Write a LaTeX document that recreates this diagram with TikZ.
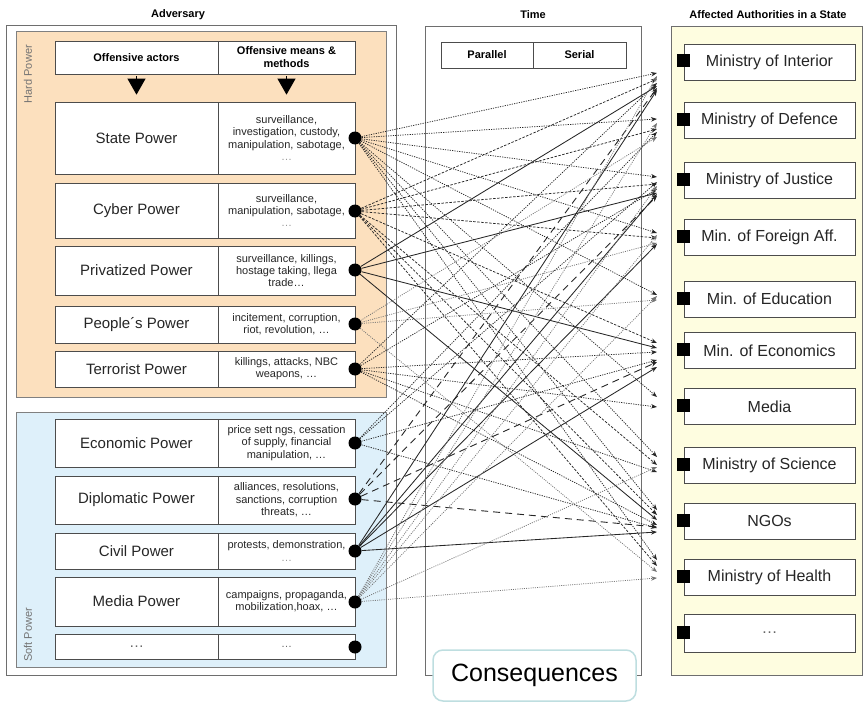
\documentclass[tikz,border=0pt]{standalone}
\usepackage{fontspec}
\setmainfont{Liberation Sans}
\usetikzlibrary{arrows.meta}
\definecolor{hardfill}{RGB}{252,224,190}
\definecolor{softfill}{RGB}{222,240,250}
\definecolor{authfill}{RGB}{254,253,224}
\definecolor{consborder}{RGB}{190,222,224}
\definecolor{frame}{RGB}{110,110,110}

\begin{document}
\begin{tikzpicture}[x=1pt,y=-1pt,
  title/.style={font=\bfseries\fontsize{11}{13}\selectfont},
  panel/.style={draw=frame, line width=0.8pt, inner sep=0pt},
  cell/.style={draw=black!70, fill=white, line width=0.7pt, inner sep=0pt, text=black!85},
  actor/.style={cell, minimum width=163pt, font=\fontsize{15}{18}\selectfont},
  means/.style={cell, minimum width=137pt, align=center, font=\fontsize{11}{12.3}\selectfont},
  hdr/.style={cell, text=black, align=center, minimum height=33pt, font=\bfseries\fontsize{11}{13}\selectfont},
  srcdot/.style={circle, fill=black, inner sep=0pt, minimum size=13pt},
  auth/.style={cell, minimum width=171pt, minimum height=36pt, font=\fontsize{16}{19}\selectfont},
  authsq/.style={fill=black, inner sep=0pt, minimum size=13pt},
  sidelabel/.style={rotate=90, inner sep=0pt, text=black!55, font=\fontsize{11}{13}\selectfont},
  downarrow/.style={-{Triangle[length=16pt,width=18pt]}, line width=1pt, shorten >=7pt, shorten <=2pt},
  conn/.style={-{Stealth[length=6pt,width=4.5pt]}, line width=0.75pt},
  dotdark/.style={conn, black!85, dash pattern=on 1.2pt off 1.2pt},
  dashdark/.style={conn, black!85, dash pattern=on 2.5pt off 1.5pt},
  solidline/.style={conn, black!85, line width=0.85pt},
  dotlight/.style={conn, black!55, dash pattern=on 1pt off 1.2pt},
  longdash/.style={conn, black!85, line width=0.9pt, dash pattern=on 7pt off 5pt}
]
\useasboundingbox (0,0) rectangle (868,709);

% ---------------- column titles
\node[title] (t-adv)  at (178,15) {Adversary};
\node[title] (t-time) at (533,15) {Time};
\node[title] (t-auth) at (768,15) {Affected Authorities in a State};

% ---------------- adversary panel
\node[panel, minimum width=390pt, minimum height=650pt] (adv) at (201,350) {};
\node[panel, draw=black!50, fill=hardfill, minimum width=370pt, minimum height=366pt] (hard) at (201,214) {};
\node[panel, draw=black!50, fill=softfill, minimum width=370pt, minimum height=255pt] (soft) at (201,539.5) {};
\node[sidelabel, anchor=east] (l-hard) at (28,45) {Hard Power};
\node[sidelabel, anchor=west] (l-soft) at (28,662) {Soft Power};

\node[hdr, minimum width=163pt] (h-act)   at (136.5,57.5) {Offensive actors};
\node[hdr, minimum width=137pt] (h-means) at (286.5,57.5) {Offensive means \&\\methods};

% actors and their means
\node[actor, minimum height=72pt] (a-state) at (136.5,138)   {State Power};
\node[means, minimum height=72pt] (m-state) at (286.5,138)   {surveillance,\\investigation, custody,\\manipulation, sabotage,\\\textcolor{black!40}{…}};
\node[actor, minimum height=55pt] (a-cyber) at (136.5,210.5) {Cyber Power};
\node[means, minimum height=55pt] (m-cyber) at (286.5,210.5) {surveillance,\\manipulation, sabotage,\\\textcolor{black!40}{…}};
\node[actor, minimum height=49pt] (a-priv)  at (136.5,270.5) {Privatized Power};
\node[means, minimum height=49pt] (m-priv)  at (286.5,270.5) {surveillance, killings,\\hostage taking,  llega\\trade…};
\node[actor, minimum height=37pt] (a-peop)  at (136.5,324.5) {People´s Power};
\node[means, minimum height=37pt] (m-peop)  at (286.5,324.5) {incitement, corruption,\\riot, revolution, …};
\node[actor, minimum height=36pt] (a-terr)  at (136.5,369)   {Terrorist Power};
\node[means, minimum height=36pt] (m-terr)  at (286.5,369)   {killings, attacks, NBC\\weapons, …};

\node[actor, minimum height=48pt] (a-econ)  at (136.5,443)   {Economic Power};
\node[means, minimum height=48pt] (m-econ)  at (286.5,443)   {price sett ngs, cessation\\of supply, financial\\manipulation, …};
\node[actor, minimum height=48pt] (a-dipl)  at (136.5,500)   {Diplomatic Power};
\node[means, minimum height=48pt] (m-dipl)  at (286.5,500)   {alliances, resolutions,\\sanctions, corruption\\threats, …};
\node[actor, minimum height=36pt] (a-civil) at (136.5,551)   {Civil Power};
\node[means, minimum height=36pt] (m-civil) at (286.5,551)   {protests, demonstration,\\\textcolor{black!40}{…}};
\node[actor, minimum height=49pt] (a-media) at (136.5,601.5) {Media Power};
\node[means, minimum height=49pt] (m-media) at (286.5,601.5) {campaigns, propaganda,\\mobilization,hoax, …};
\node[actor, minimum height=25pt] (a-more)  at (136.5,646.5) {\textcolor{black!60}{…}};
\node[means, minimum height=25pt] (m-more)  at (286.5,646.5) {\textcolor{black!60}{…}};

\draw[downarrow] (h-act.south)   -- (a-state.north);
\draw[downarrow] (h-means.south) -- (m-state.north);

% ---------------- time panel
\node[panel, minimum width=216pt, minimum height=649pt] (time) at (533,350.5) {};
\node[hdr, minimum width=92pt, minimum height=26pt] (par) at (487,55)   {Parallel};
\node[hdr, minimum width=93pt, minimum height=26pt] (ser) at (579.5,55) {Serial};

% ---------------- authorities panel
\node[panel, fill=authfill, minimum width=191pt, minimum height=649pt] (auth) at (766.5,350.5) {};
\node[auth] (int) at (769.5,62)    {Ministry of Interior};
\node[auth] (def) at (769.5,120.5) {Ministry of Defence};
\node[auth] (jus) at (769.5,180.5) {Ministry of Justice};
\node[auth] (for) at (769.5,237.5) {Min. of Foreign Aff.};
\node[auth] (edu) at (769.5,299)   {Min. of Education};
\node[auth] (eco) at (769.5,350.5) {Min. of Economics};
\node[auth] (med) at (769.5,406.5) {Media};
\node[auth] (sci) at (769.5,465.5) {Ministry of Science};
\node[auth] (ngo) at (769.5,521)   {NGOs};
\node[auth] (hea) at (769.5,577.5) {Ministry of Health};
\node[auth, minimum height=38pt] (etc) at (769.5,633) {\textcolor{black!60}{…}};
\foreach \a in {int,def,jus,for,edu,eco,med,sci,ngo,hea,etc}
  \node[authsq] (\a-sq) at ([yshift=1pt]\a.west) {};

% arrow ends in front of each authority
\coordinate (int-in) at (657,81);
\coordinate (def-in) at (657,128);
\coordinate (jus-in) at (657,185);
\coordinate (for-in) at (657,238);
\coordinate (edu-in) at (657,298);
\coordinate (eco-in) at (657,354);
\coordinate (med-in) at (657,402);
\coordinate (sci-in) at (657,465);
\coordinate (ngo-in) at (657,521);
\coordinate (hea-in) at (657,569);

% ---------------- source dots
\node[srcdot] (d-state) at (355,138) {};
\node[srcdot] (d-cyber) at (355,211) {};
\node[srcdot] (d-priv)  at (355,270) {};
\node[srcdot] (d-peop)  at (355,324) {};
\node[srcdot] (d-terr)  at (355,369) {};
\node[srcdot] (d-econ)  at (355,443) {};
\node[srcdot] (d-dipl)  at (355,499) {};
\node[srcdot] (d-civil) at (355,551) {};
\node[srcdot] (d-media) at (355,602) {};
\node[srcdot] (d-more)  at (355,647) {};

% ---------------- effects (yshift: positive = higher)
\foreach \t/\o in {int/8, def/9, jus/8, for/5, edu/3, med/5, sci/8, ngo/11, hea/9}
  \draw[dotdark] (d-state) -- ([yshift=\o pt]\t-in);
\foreach \t/\o in {int/2, def/-1, jus/1, for/0, eco/11, sci/0, ngo/6, hea/3}
  \draw[dashdark] (d-cyber) -- ([yshift=\o pt]\t-in);
\foreach \t/\o in {int/-5, jus/-8, eco/6, ngo/1}
  \draw[solidline] (d-priv) -- ([yshift=\o pt]\t-in);
\foreach \t/\o in {def/-9, for/-5, edu/-2, hea/-3}
  \draw[dotlight] (d-peop) -- ([yshift=\o pt]\t-in);
\foreach \t/\o in {int/-2, jus/-4, eco/2, med/-5, sci/-7, ngo/-4}
  \draw[dotdark] (d-terr) -- ([yshift=\o pt]\t-in);
\foreach \t/\o in {def/-4, jus/3, eco/-6, ngo/-7}
  \draw[dotdark] (d-econ) -- ([yshift=\o pt]\t-in);
\foreach \t/\o in {int/-7, jus/-11, eco/-8, ngo/-6}
  \draw[longdash] (d-dipl) -- ([yshift=\o pt]\t-in);
\foreach \t/\o in {int/-9, jus/-9, for/-6, eco/-13, ngo/-11}
  \draw[solidline] (d-civil) -- ([yshift=\o pt]\t-in);
\foreach \t/\o in {int/5, def/5, jus/-1, for/3, edu/2, sci/-2, hea/-9}
  \draw[dotlight] (d-media) -- ([yshift=\o pt]\t-in);

% ---------------- consequences label over the time panel
\node[draw=consborder, line width=1.5pt, fill=white, rounded corners=10pt,
      minimum width=203pt, minimum height=51pt, font=\fontsize{25}{30}\selectfont] (cons) at (534.5,675.5) {Consequences};
\end{tikzpicture}
\end{document}
